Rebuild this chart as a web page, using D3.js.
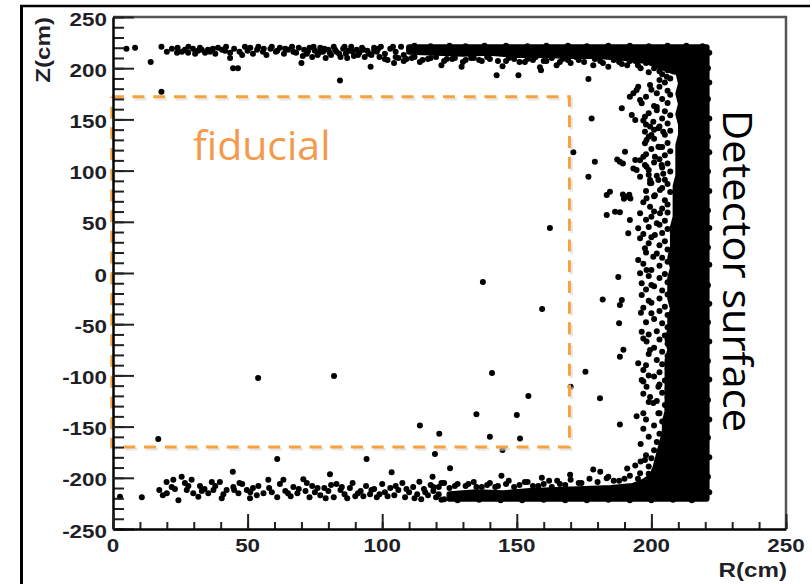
<!DOCTYPE html>
<html>
<head>
<meta charset="utf-8">
<script src="https://cdn.jsdelivr.net/npm/d3@7"></script>
<style>
  html, body { margin: 0; padding: 0; background: #fff; }
  svg { display: block; }
</style>
</head>
<body>
<svg id="chart" width="812" height="584"></svg>
<script>
// ---- axes ----
const rDomain = [0, 250];
const zDomain = [-250, 250];
const rMajorTicks = [0, 50, 100, 150, 200, 250];
const zMajorTicks = [-250, -200, -150, -100, -50, 0, 50, 100, 150, 200, 250];
const rMinorStep = 10;
const zMinorStep = 10;

// ---- fiducial volume ----
const fiducialR = 170;
const fiducialZ = [-170, 172];

// ---- saturated hit regions (dot centres, cm) ----
const outerR = 220.5;
const outerZ = 220.5;
const topBandR    = [110, 120, 130, 140, 150, 160, 170, 180, 190, 198, 204, 208];
const topBandZlow = [216, 215, 214, 215, 213, 213, 212, 212, 210, 207, 201, 197];
const wallZ      = [-195, -185, -175, -165, -155, -145, -135, -125, -115, -105, -95, -85, -75, -65, -55, -45, -35, -25, -15, -5,
                    5, 15, 25, 35, 45, 55, 65, 75, 85, 95, 105, 115, 125, 135, 145, 155, 165, 175, 185, 196];
const wallInnerR = [201, 202, 203, 204, 205, 205, 206, 206, 206, 206, 206, 206, 207, 206, 207, 207, 208, 207, 207, 207,
                    208, 207, 208, 208, 208, 209, 209, 209, 209, 210, 210, 210, 210, 211, 211, 210, 211, 210, 211, 210];
const bottomBandR     = [125, 135, 145, 155, 165, 175, 185, 193, 197, 200];
const bottomBandZhigh = [-216, -214, -215, -213, -212, -211, -210, -208, -204, -199];

// ---- individual hits [R, Z] ----
const topHits = [
  [5,219],[8.2,220],[14,206],[18,221],[18,177],[21.9,219],[23.8,215],[25.6,216],[26.7,218],[27.9,215],
  [29.7,219],[31.6,217],[32.3,220],[34.2,215],[35.3,218],[37.1,219],[39,220],[40.5,218],[41.6,217],[43.5,215],
  [43.5,210],[44.6,200],[46.4,200],[49,221],[51,220],[53.5,218],[55.7,216],[57,213],[58.5,219],[60.5,216],
  [62,220],[63.5,214],[65,218],[66.5,221],[68,215],[70,205],[71,218],[72,214],[73,220],[74,211],
  [75,217],[76,213],[77,220],[78,216],[79,210],[80,218],[81,213],[82,221],[83,216],[84.3,188],
  [84.5,211],[85.5,219],[86.5,214],[87.5,217],[88.5,221],[89.5,212],[90.5,218],[91.5,215],[92.5,220],[93.5,211],
  [94.5,217],[95.7,201.5],[96,213],[97,220],[98,216],[99,211],[99.5,221],[102,208],[104.4,205],[106,210],
  [109,209],[112,211],[115,208],[118,210],[122,203],[124,209],[127,210],[129.5,201.5],[131,208],[134,210],
  [137,207],[140,209],[142.5,193],[144.7,202],[146,207],[149,209],[150.6,193],[153,206],[156,208],[158.6,201],
  [159,198],[161,207],[164.8,203],[167,209],[170,205],[173,208],[176.6,189.5],[178.4,203],[181,207],[184,201.5],
  [185.2,211],[188,206],[191,203],[194,207],[196,200],
  [20,216],[24,220],[28,221],[30.5,214],[33,218],[36,216],[38,214],[42,221],[45,219],[47,216],
  [48,213],[50,217],[52,214],[54,221],[56,219],[59,221],[61,217],[64,219],[67,216],[69,220],
  [70.5,212],[72.5,217],[74.5,221],[76.5,215],[78.5,219],[80.5,215],[82.5,218],[84,214],[86,221],[87,210],
  [89,216],[91,213],[93,218],[95,214],[97,217],[98.5,219],[101,214],[103,219],[105,216],[107,221],
  [108,213],[110,219]
];
const bottomHits = [
  [2.6,-218.5],[10.7,-219],[16.8,-162],[17.2,-212],[18.5,-217],[19.9,-204],[21.8,-209],[22.4,-202],[24.3,-222],[25.5,-199],
  [26.7,-205],[27.4,-212],[29.2,-202],[29.8,-215],[31.7,-218.5],[32.3,-208],[34,-211],[35.4,-215],[36.7,-204],[37.3,-212],
  [39.7,-204],[40.4,-220],[42.2,-212],[44.5,-194],[44.7,-209],[46.6,-215],[48,-206],[49.7,-212],[50.9,-220],[52,-210],
  [53.4,-217],[55.9,-215],[57.7,-202],[59,-214],[61,-181.6],[61,-219],[63.3,-202],[64,-213],[66,-218],[67,-209],
  [68.5,-215],[70.7,-201.5],[71.5,-213],[73,-219],[74,-208],[75,-214],[77,-217],[78.5,-210],[80,-213],[80.6,-196.6],
  [82,-219],[83,-206],[84.5,-212],[86,-216],[88,-210],[90,-218],[92,-213],[94.2,-181.6],[94,-208],[95.5,-216],
  [97,-211],[98,-219],[100,-206],[101,-214],[103.5,-194.6],[103,-210],[104.5,-217],[106,-212],[107.5,-205],[108.5,-219],
  [110,-214],[111.5,-209],[113,-216],[113.8,-203.8],[114.5,-221],[115.5,-211],[117,-217],[118.7,-199],[118,-207],[119,-213],
  [119.6,-176.8],[120,-219],[121,-209],[123,-205],[125.2,-190.7],[127,-208],[129,-220],[132,-206],[135,-209],[138,-218],
  [139,-207],[142,-209],[144.3,-198],[146,-206],[149,-209],[153,-204],[156,-208],[159.3,-200],[160,-206],[163,-209],
  [165,-203],[168,-207],[169.8,-197],[174,-205],[178.4,-192],[181,-194],[183.4,-200.5],[186,-203],[190,-201],
  [20,-215],[23,-211],[28,-208],[33,-213],[38,-208],[41,-216],[45,-212],[47,-205],[51,-214],[54,-208],
  [58,-210],[62,-206],[65,-215],[69,-211],[72,-205],[76,-210],[79,-220],[81,-207],[85,-209],[87,-220],
  [89,-205],[91,-215],[93,-218],[96,-212],[99,-216],[102,-218],[105,-208],[109,-211],[112,-220],[116,-214],
  [121,-216],[123,-221]
];
const edgeHits = [
  [177.8,151],[171,118],[179,108.7],[188.3,108.7],[187.3,110.8],[189.4,107],[176.6,94],[184.6,79.4],[190.8,74.5],[189.4,76.6],
  [192.2,72.8],[191.8,76.4],[189.8,72.6],[189,160.8],[192,172],[194.5,178.7],[195.8,169],[199.5,183.6],[202,175.5],[202,159],
  [197,149],[199.5,143],[204.4,138],[203,188.5],[205.7,191.7],[198.2,130],[203,123],[201.3,113.6],[195.8,110],[193.3,102],
  [198.2,103.8],[195.8,94],[199.5,87.6],[204.4,97],[193.3,175.5],[195.1,182],[196.4,165.7],[192.7,154.3],[194,149.4],[197.6,152.6],
  [200.7,147.7],[202.6,141.3],[197.6,138],[200,134.8],[197.6,126.6],[202.6,123.3],[197,113.6],[190.2,118.5],[194,110.4],[197.6,105.5],
  [194.5,100.6],[199,100.6],[203.8,105.5],[199.5,90.8],[202.6,90.8],[203.2,81],[183.4,76.2],[198.2,72.9],[201.3,76],[199.5,64.7],
  [203.2,58.3],[202,48.5],[201.3,37.1],[200.7,15.9],[198.2,2.9],[183.4,56.6],[186.5,59.9],[188.3,59.3],[192,51.8],[195.8,58.3],
  [191.4,38.8],[195.1,43.6],[195.8,33.9],[197.6,24.1],[195.1,12.7],[187.7,-4],[195.8,-0.3],[196.4,-10],[181.9,-26],[189,-26.4],
  [188.3,-31.2],[188,-49],[189.6,-75],[188.3,-81.7],[175.5,-96.4],[196.4,-21.5],[196.1,-38.7],[196.4,-57.3],[200,-11.7],[195.1,-88.2],
  [197,-94.7],[196.4,-104.5],[198.2,-111],[202.6,-111],[180.9,-122.4],[200,-39.4],[198.2,-67],[199.5,-75.2],[170,-111],[188.3,-148],
  [194.5,-140],[197,-137],[197.6,-182.6],[195.8,-195.6],[197,-106],[200.7,-127],[202.6,-137],[199.5,-121]
];
// densely populated rim around the saturated region
const rimHits = [
  // inner face of the wall
  [206,198],[204,194],[207,190],[205,186],[203,182],[206,178],[207,174],[204,170],[206,166],[202,162],
  [205,158],[207,154],[204,151],[206,146],[203,143],[207,139],[205,135],[201,131],[206,127],[204,123],
  [207,119],[205,115],[203,111],[206,107],[204,103],[207,99],[202,95],[205,91],[206,87],[204,83],
  [207,79],[201,75],[205,71],[206,67],[204,63],[206,59],[200,55],[205,51],[203,47],[206,43],
  [204,39],[200,35],[205,31],[203,27],[206,23],[202,19],[204,15],[206,11],[203,7],[200,3],
  [205,-1],[203,-5],[206,-9],[201,-13],[204,-17],[206,-21],[203,-25],[200,-29],[205,-33],[203,-37],
  [206,-41],[201,-45],[204,-49],[206,-53],[202,-57],[205,-61],[203,-65],[206,-69],[201,-73],[204,-77],
  [206,-81],[202,-85],[204,-89],[206,-93],[203,-97],[201,-101],[205,-105],[203,-109],[206,-113],[204,-117],
  [206,-121],[202,-125],[205,-129],[206,-133],[203,-137],[206,-141],[204,-145],[201,-149],[205,-153],[203,-157],
  [206,-161],[202,-165],[204,-169],[201,-173],[203,-177],[200,-181],[202,-185],[199,-189],[201,-193],
  [199,196],[200,179],[198,172],[201,163],[199,156],[198,145],[201,140],[199,133],[200,121],[198,116],
  [201,108],[199,96],[200,88],[198,80],[197,69],[201,60],[198,52],[199,45],[197,38],[199,29],
  [198,20],[197,9],[199,-3],[198,-16],[199,-27],[197,-34],[198,-48],[199,-60],[197,-64],[199,-79],
  [198,-90],[199,-100],[197,-118],[199,-126],[198,-143],[197,-152],[199,-160],[196,-167],[198,-178],[196,-184],
  [194,-188],[191,-191],
  // outer face of the wall
  [221.5,215],[221,200],[221.5,186],[221,170],[221.5,151],[221,133],[221.5,118],[221,99],[221.5,80],[221,61],
  [221.5,44],[221,25],[221.5,8],[221,-12],[221.5,-30],[221,-48],[221.5,-67],[221,-86],[221.5,-104],[221,-124],
  [221.5,-143],[221,-161],[221.5,-180],[221,-199],[221.5,-214],
  // top edge of the upper band
  [104,221],[112,222],[118,221.5],[125,222],[131,221.5],[138,222],[146,222],[154,221.5],[161,222],[169,222],
  [176,221.5],[184,222],[192,222],[199,221.5],[206,222],[213,222],[219,221.5],
  // lower face of the upper band
  [101,209],[105,211],[108,207],[111,210],[114,206],[117,209],[120,211],[123,207],[126,209],[130,206],
  [133,210],[136,208],[139,211],[143,207],[147,210],[151,206],[154,209],[157,211],[160,207],[163,210],
  [166,206],[169,208],[172,211],[175,206],[179,209],[182,205],[186,208],[189,204],[192,207],[195,203],
  [198,205],[201,200],[203,197],
  // bottom edge of the lower band
  [122,-221.5],[128,-222],[136,-221.5],[144,-222],[152,-222],[160,-221.5],[168,-222],[176,-222],[184,-221.5],[192,-222],
  [200,-222],[208,-221.5],[215,-222],
  // upper face of the lower band
  [119,-209],[122,-205],[125,-210],[128,-206],[131,-208],[134,-204],[137,-209],[140,-205],[143,-208],[147,-203],
  [151,-207],[154,-204],[158,-208],[162,-203],[166,-206],[170,-202],[173,-205],[177,-201],[180,-204],[184,-199],
  [188,-203],[192,-198],[195,-201],[199,-196],[202,-193]
];
const innerHits = [
  [53.9,-102.5],[82.1,-100.6],[137.4,-8.8],[162.3,43.9],[159.4,-35.2],[140.8,-97.7],[154.3,-120],[135,-138],[150,-138.7],[114,-149],
  [121.2,-157],[140,-160],[151.2,-161.5],[144.7,-172.9]
];

// ---- drawing ----
const svg = d3.select("#chart");
const x = d3.scaleLinear().domain(rDomain).range([113, 786]);
const y = d3.scaleLinear().domain(zDomain).range([529, 17]);
const dotR = 3;

// page frame
svg.append("line").attr("x1", 21.5).attr("y1", 6).attr("x2", 21.5).attr("y2", 584)
  .attr("stroke", "#000").attr("stroke-width", 3);
svg.append("line").attr("x1", 20).attr("y1", 6).attr("x2", 810).attr("y2", 6)
  .attr("stroke", "#000").attr("stroke-width", 2.5);

// plot frame (top & right)
svg.append("path")
  .attr("d", `M${x(rDomain[0])},${y(zDomain[1])}H${x(rDomain[1])}V${y(zDomain[0])}`)
  .attr("fill", "none").attr("stroke", "#555").attr("stroke-width", 2.5);

// saturated region outline built from the band/wall edges
const saturated = [];
saturated.push([topBandR[0], outerZ]);
saturated.push([outerR, outerZ]);
saturated.push([outerR, -outerZ]);
saturated.push([bottomBandR[0], -outerZ]);
bottomBandR.forEach((r, i) => saturated.push([r, bottomBandZhigh[i]]));
wallZ.forEach((z, i) => saturated.push([wallInnerR[i], z]));
for (let i = topBandR.length - 1; i >= 0; i--) saturated.push([topBandR[i], topBandZlow[i]]);

const line = d3.line().x(d => x(d[0])).y(d => y(d[1]));
const hitsG = svg.append("g");
hitsG.append("path")
  .attr("d", line(saturated) + "Z")
  .attr("fill", "#000").attr("stroke", "#000")
  .attr("stroke-width", dotR * 2).attr("stroke-linejoin", "round");

const allHits = topHits.concat(bottomHits, edgeHits, rimHits, innerHits);
hitsG.selectAll("circle").data(allHits).join("circle")
  .attr("cx", d => x(d[0])).attr("cy", d => y(d[1])).attr("r", dotR)
  .attr("fill", "#000");

// fiducial volume (dashed)
const fidPts = [[0, fiducialZ[1]], [fiducialR, fiducialZ[1]], [fiducialR, fiducialZ[0]], [0, fiducialZ[0]], [0, fiducialZ[1]]];
svg.append("path").attr("d", line(fidPts))
  .attr("fill", "none").attr("stroke", "#d8d8d8").attr("stroke-width", 3)
  .attr("stroke-dasharray", "12,8.7").attr("transform", "translate(0.8,2.2)").attr("opacity", 0.6);
svg.append("path").attr("d", line(fidPts))
  .attr("fill", "none").attr("stroke", "#F8A23E").attr("stroke-width", 3)
  .attr("stroke-dasharray", "12,8.7").attr("transform", "translate(-1.2,0)");

// axes: ticks drawn inward
const axisCol = "#222";
const zMinor = d3.range(zDomain[0], zDomain[1] + 0.01, zMinorStep);
const rMinor = d3.range(rDomain[0], rDomain[1] + 0.01, rMinorStep);

const yAxisG = svg.append("g").attr("transform", `translate(${x(0)},0)`);
yAxisG.call(d3.axisLeft(y).tickValues(zMinor).tickSizeInner(-11).tickSizeOuter(0).tickFormat(""));
yAxisG.selectAll(".tick line").attr("stroke", axisCol).attr("stroke-width", 2);
yAxisG.select(".domain").remove();
const yMajG = svg.append("g").attr("transform", `translate(${x(0)},0)`);
yMajG.call(d3.axisLeft(y).tickValues(zMajorTicks).tickSizeInner(-21).tickSizeOuter(0).tickFormat(""));
yMajG.selectAll(".tick line").attr("stroke", axisCol).attr("stroke-width", 2);
yMajG.select(".domain").attr("stroke", "#000").attr("stroke-width", 2.5);

const xAxisG = svg.append("g").attr("transform", `translate(0,${y(zDomain[0])})`);
xAxisG.call(d3.axisBottom(x).tickValues(rMinor).tickSizeInner(-7).tickSizeOuter(0).tickFormat(""));
xAxisG.selectAll(".tick line").attr("stroke", axisCol).attr("stroke-width", 2);
xAxisG.select(".domain").remove();
const xMajG = svg.append("g").attr("transform", `translate(0,${y(zDomain[0])})`);
xMajG.call(d3.axisBottom(x).tickValues(rMajorTicks).tickSizeInner(-15).tickSizeOuter(0).tickFormat(""));
xMajG.selectAll(".tick line").attr("stroke", axisCol).attr("stroke-width", 2);
xMajG.select(".domain").attr("stroke", "#000").attr("stroke-width", 2.5);

// tick labels
const labelFont = "'Liberation Sans', Arial, Helvetica, sans-serif";
svg.append("g").selectAll("text").data(zMajorTicks).join("text")
  .attr("transform", d => `translate(${x(0) - 6},${y(d) + 8.5}) scale(1.18,1)`)
  .attr("text-anchor", "end")
  .attr("font-family", labelFont).attr("font-weight", "bold").attr("font-size", 19)
  .attr("fill", "#1f1f28").text(d => d);
svg.append("g").selectAll("text").data(rMajorTicks).join("text")
  .attr("transform", d => `translate(${x(d)},${y(zDomain[0]) + 23}) scale(1.18,1)`)
  .attr("text-anchor", "middle")
  .attr("font-family", labelFont).attr("font-weight", "bold").attr("font-size", 19)
  .attr("fill", "#1f1f28").text(d => d);

// axis titles
svg.append("text")
  .attr("transform", `translate(50,17) rotate(-90) scale(1.15,1)`)
  .attr("text-anchor", "end")
  .attr("font-family", labelFont).attr("font-weight", "bold").attr("font-size", 21)
  .attr("fill", "#1f1f28").text("Z(cm)");
svg.append("text")
  .attr("transform", `translate(${x(rDomain[1]) + 1},577) scale(1.15,1)`)
  .attr("text-anchor", "end")
  .attr("font-family", labelFont).attr("font-weight", "bold").attr("font-size", 21)
  .attr("fill", "#1f1f28").text("R(cm)");

// annotations
svg.append("text")
  .attr("x", 193).attr("y", 160)
  .attr("font-family", "'Open Sans', sans-serif").attr("font-size", 41)
  .attr("fill", "#F39A4C").text("fiducial");
svg.append("text")
  .attr("transform", "translate(723,110) rotate(90)")
  .attr("font-family", "'Open Sans', sans-serif").attr("font-size", 41)
  .attr("textLength", 322).attr("lengthAdjust", "spacingAndGlyphs")
  .attr("fill", "#000").text("Detector surface");
</script>
</body>
</html>
